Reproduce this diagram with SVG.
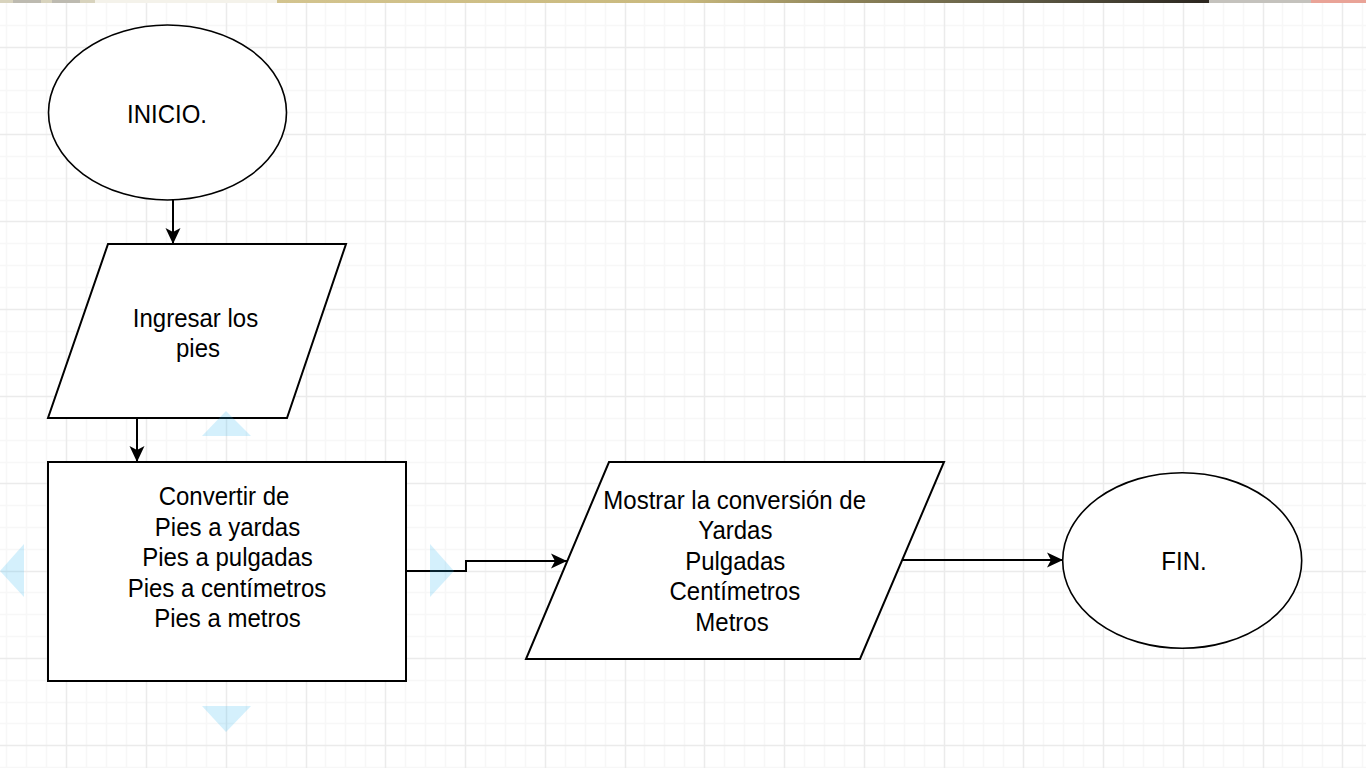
<svg xmlns="http://www.w3.org/2000/svg" width="1366" height="768" viewBox="0 0 1366 768">
<style>
.minor{stroke:#f7f7f7;stroke-width:1.5;fill:none}
.major{stroke:#ebebeb;stroke-width:1.5;fill:none}
.shape{fill:#ffffff;stroke:#000000;stroke-width:2}
.oval{fill:#ffffff;stroke:#000000;stroke-width:1.6}
.lbl{font-family:"Liberation Sans",Arial,sans-serif;font-size:24px;fill:#000000;text-anchor:middle}
.edge{fill:none;stroke:#000000;stroke-width:2}
.hint{fill:#29b6f2;fill-opacity:0.2}
</style>
<defs>
<marker id="arr" markerUnits="userSpaceOnUse" markerWidth="18" markerHeight="18" viewBox="0 0 18 18" refX="17" refY="9" orient="auto">
<path d="M1,1.5 L17,9 L1,16.5 L5,9 Z" fill="#000000"/>
</marker>
<linearGradient id="bar" x1="0" y1="0" x2="1" y2="0">
<stop offset="0" stop-color="#d9d2b0"/>
<stop offset="0.2" stop-color="#d3c48f"/>
<stop offset="0.5" stop-color="#c9b97e"/>
<stop offset="0.62" stop-color="#8c8258"/>
<stop offset="0.75" stop-color="#5e5a45"/>
<stop offset="0.88" stop-color="#2c2720"/>
<stop offset="1" stop-color="#2c2720"/>
</linearGradient>
</defs>
<rect x="0" y="0" width="1366" height="768" fill="#ffffff"/>
<g id="grid">
<path class="minor" d="M6.5,0V768M26.5,0V768M46.5,0V768M86.5,0V768M106.5,0V768M126.5,0V768M166.5,0V768M186.5,0V768M206.5,0V768M246.5,0V768M266.5,0V768M286.5,0V768M325.5,0V768M345.5,0V768M365.5,0V768M405.5,0V768M425.5,0V768M445.5,0V768M485.5,0V768M505.5,0V768M525.5,0V768M565.5,0V768M585.5,0V768M605.5,0V768M644.5,0V768M664.5,0V768M684.5,0V768M724.5,0V768M744.5,0V768M764.5,0V768M804.5,0V768M824.5,0V768M844.5,0V768M884.5,0V768M904.5,0V768M924.5,0V768M963.5,0V768M983.5,0V768M1003.5,0V768M1043.5,0V768M1063.5,0V768M1083.5,0V768M1123.5,0V768M1143.5,0V768M1163.5,0V768M1203.5,0V768M1223.5,0V768M1243.5,0V768M1282.5,0V768M1302.5,0V768M1322.5,0V768M1362.5,0V768"/>
<path class="minor" d="M0,25.5H1366M0,69.5H1366M0,90.5H1366M0,112.5H1366M0,156.5H1366M0,178.5H1366M0,200.5H1366M0,243.5H1366M0,265.5H1366M0,287.5H1366M0,331.5H1366M0,352.5H1366M0,374.5H1366M0,418.5H1366M0,440.5H1366M0,462.5H1366M0,505.5H1366M0,527.5H1366M0,549.5H1366M0,592.5H1366M0,614.5H1366M0,636.5H1366M0,680.5H1366M0,702.5H1366M0,723.5H1366M0,767.5H1366"/>
<path class="major" d="M66.5,0V768M146.5,0V768M226.5,0V768M306.5,0V768M385.5,0V768M465.5,0V768M545.5,0V768M625.5,0V768M704.5,0V768M784.5,0V768M864.5,0V768M944.5,0V768M1023.5,0V768M1103.5,0V768M1183.5,0V768M1263.5,0V768M1342.5,0V768"/>
<path class="major" d="M0,47.5H1366M0,134.5H1366M0,221.5H1366M0,309.5H1366M0,396.5H1366M0,483.5H1366M0,571.5H1366M0,658.5H1366M0,745.5H1366"/>
</g>
<g id="topbar">
<rect x="0" y="0" width="1366" height="3" fill="url(#bar)"/>
<rect x="0" y="0" width="95" height="3" fill="#d8d3bd"/>
<rect x="13" y="0" width="28" height="3" fill="#bdbab0"/>
<rect x="52" y="0" width="28" height="3" fill="#bdbab0"/>
<rect x="95" y="0" width="182" height="3" fill="#f4f2ea"/>
<rect x="1209" y="0" width="102" height="3" fill="#c4c2bd"/>
<rect x="1311" y="0" width="55" height="3" fill="#e9a397"/>
</g>
<g id="connectors">
<path class="edge" d="M173,200V244" marker-end="url(#arr)"/>
<path class="edge" d="M137,418V462" marker-end="url(#arr)"/>
<path class="edge" d="M406,571H466V561H567" marker-end="url(#arr)"/>
<path class="edge" d="M902,560H1063" marker-end="url(#arr)"/>
</g>
<g id="inicio">
<ellipse class="oval" cx="167.5" cy="112.5" rx="119" ry="87.5"/>
<text class="lbl" transform="translate(167,122.5) scale(1,1.09)">INICIO.</text>
</g>
<g id="ingresar">
<polygon class="shape" points="108,244 346,244 287,418 48,418"/>
<text class="lbl" transform="translate(195.5,327) scale(1,1.09)">Ingresar los</text>
<text class="lbl" transform="translate(198,357) scale(1,1.09)">pies</text>
</g>
<g id="convertir">
<rect class="shape" x="48" y="462" width="358" height="219"/>
<text class="lbl" transform="translate(224,505) scale(1,1.09)">Convertir de</text>
<text class="lbl" transform="translate(227.5,535.5) scale(1,1.09)">Pies a yardas</text>
<text class="lbl" transform="translate(227.5,566) scale(1,1.09)">Pies a pulgadas</text>
<text class="lbl" transform="translate(227,596.5) scale(1,1.09)">Pies a centímetros</text>
<text class="lbl" transform="translate(227.5,627) scale(1,1.09)">Pies a metros</text>
</g>
<g id="mostrar">
<polygon class="shape" points="609,462 944,462 860,659 526,659"/>
<text class="lbl" transform="translate(734.7,509.3) scale(1,1.09)">Mostrar la conversión de</text>
<text class="lbl" transform="translate(735.3,539.3) scale(1,1.09)">Yardas</text>
<text class="lbl" transform="translate(735.2,569.5) scale(1,1.09)">Pulgadas</text>
<text class="lbl" transform="translate(734.8,600) scale(1,1.09)">Centímetros</text>
<text class="lbl" transform="translate(732,631) scale(1,1.09)">Metros</text>
</g>
<g id="fin">
<ellipse class="oval" cx="1182.2" cy="560.5" rx="119.5" ry="87.8"/>
<text class="lbl" transform="translate(1184,570) scale(1,1.09)">FIN.</text>
</g>
<g id="hover-hints">
<polygon class="hint" points="226,411 251,436 202,436"/>
<polygon class="hint" points="202,706 251,706 226,732"/>
<polygon class="hint" points="24,544 24,597 0,571"/>
<polygon class="hint" points="430,544 454,571 430,597"/>
</g>
</svg>
